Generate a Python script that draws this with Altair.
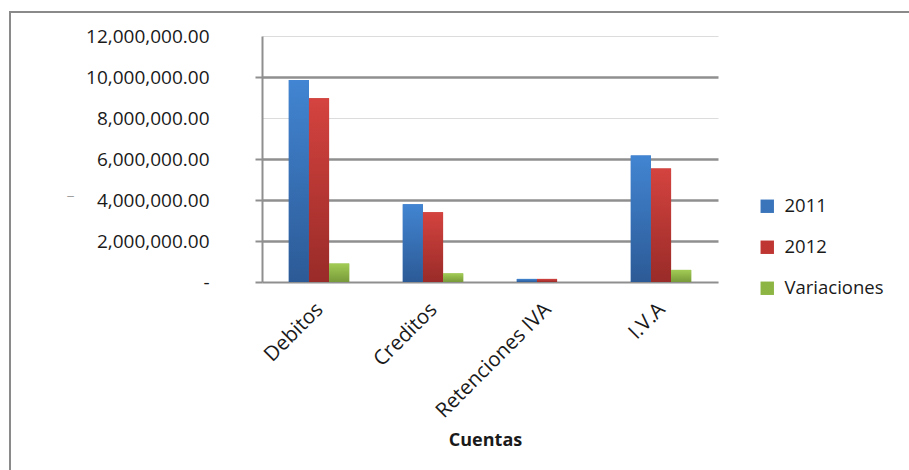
import altair as alt
import pandas as pd

cuentas = ["Debitos", "Creditos", "Retenciones IVA", "I.V.A"]
series = ["2011", "2012", "Variaciones"]
v2011 = [9850000, 3790000, 150000, 6170000]
v2012 = [8960000, 3400000, 150000, 5540000]
vvar = [900000, 420000, 0, 590000]

rows = []
for i, c in enumerate(cuentas):
    rows.append({"cuenta": c, "serie": "2011", "valor": v2011[i]})
    rows.append({"cuenta": c, "serie": "2012", "valor": v2012[i]})
    rows.append({"cuenta": c, "serie": "Variaciones", "valor": vvar[i]})
df = pd.DataFrame(rows)

FONT = "Open Sans"
TXT = "#1a1a1a"
GRID_DARK = "#8f8f8f"
GRID_LIGHT = "#dcdcdc"

flat = ["#3a74bb", "#bf3531", "#8db543"]
grads = {
    "2011": ("#4285d2", "#2c5a96"),
    "2012": ("#d4433f", "#992b28"),
    "Variaciones": ("#a2cc55", "#789a3a"),
}

strong = "datum.value == 10000000 || datum.value == 6000000 || datum.value == 4000000 || datum.value == 2000000"
tickcond = strong + " || datum.value == 0"

x_enc = alt.X(
    "cuenta:N",
    sort=cuentas,
    scale=alt.Scale(paddingInner=0.47, paddingOuter=0.235),
    axis=alt.Axis(
        title="Cuentas",
        titleFont=FONT,
        titleFontSize=18,
        titleFontWeight="bold",
        titleColor=TXT,
        titleX=223,
        titleAlign="center",
        titleY=158,
        titleBaseline="middle",
        labelAngle=-45,
        labelAlign="right",
        labelBaseline="middle",
        labelFont=FONT,
        labelFontSize=20.5,
        labelColor=TXT,
        labelPadding=24,
        labelOffset=1,
        ticks=False,
        domainColor=GRID_DARK,
        domainWidth=2,
        grid=False,
    ),
)

y_enc = alt.Y(
    "valor:Q",
    scale=alt.Scale(domain=[0, 12000000], nice=False),
    axis=alt.Axis(
        values=[0, 2000000, 4000000, 6000000, 8000000, 10000000, 12000000],
        labelExpr="datum.value == 0 ? '-' : format(datum.value, ',.2f')",
        labelFont=FONT,
        labelFontSize=19,
        labelColor=TXT,
        labelPadding=46,
        tickSize=7,
        tickColor=GRID_DARK,
        tickWidth=2,
        tickOpacity={"condition": {"test": tickcond, "value": 1}, "value": 0},
        domainColor=GRID_DARK,
        domainWidth=2,
        grid=True,
        gridColor={"condition": {"test": strong, "value": GRID_DARK}, "value": GRID_LIGHT},
        gridWidth={"condition": {"test": strong, "value": 2.5}, "value": 1},
        title="\u2013",
        titleAngle=0,
        titleX=-192,
        titleY=166,
        titleColor="#999999",
        titleFontWeight="normal",
        titleFontSize=12,
    ),
)

xoff = alt.XOffset("serie:N", scale=alt.Scale(domain=series), sort=series)

base = alt.Chart(df).mark_bar().encode(
    x=x_enc,
    y=y_enc,
    xOffset=xoff,
    color=alt.Color(
        "serie:N",
        scale=alt.Scale(domain=series, range=flat),
        legend=alt.Legend(
            title=None,
            orient="none",
            legendX=496,
            legendY=161,
            symbolType="square",
            symbolSize=180,
            symbolStrokeWidth=0,
            labelFont=FONT,
            labelFontSize=18.5,
            labelColor=TXT,
            rowPadding=22,
            labelOffset=8,
        ),
    ),
)

layers = [base]
for s in series:
    top, bot = grads[s]
    g = alt.Gradient(
        gradient="linear",
        stops=[alt.GradientStop(color=top, offset=0), alt.GradientStop(color=bot, offset=1)],
        x1=0, x2=0, y1=0, y2=1,
    )
    layers.append(
        alt.Chart(df).transform_filter(alt.datum.serie == s).mark_bar(color=g).encode(
            x=alt.X("cuenta:N", sort=cuentas),
            y=alt.Y("valor:Q"),
            xOffset=alt.XOffset("serie:N", sort=series),
        )
    )

border = alt.Chart(pd.DataFrame({"k": [0]})).mark_rect(
    fill=None, stroke="#8a8a8a", strokeWidth=2
).encode(
    x=alt.value(-252), x2=alt.value(680), y=alt.value(-24), y2=alt.value(460)
)

chart = alt.layer(border, *layers).properties(
    width=456,
    height=246,
    autosize=alt.AutoSizeParams(type="none"),
    padding={"left": 262, "top": 36, "right": 191, "bottom": 188},
    background="white",
).configure_view(stroke=None)

chart.save("out.html", embed_options={"renderer": "svg", "actions": False})
